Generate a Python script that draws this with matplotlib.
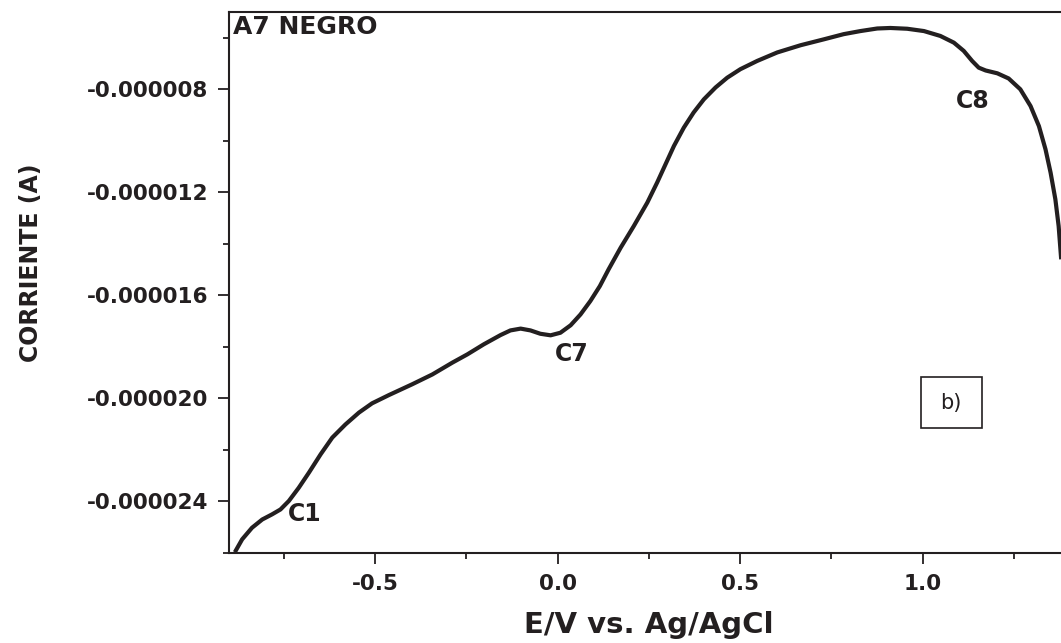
import numpy as np
import matplotlib
matplotlib.use("Agg")
import matplotlib.pyplot as plt
from matplotlib.patches import Rectangle
from matplotlib.ticker import FixedLocator, FuncFormatter

# Linear sweep voltammogram, sample A7 negro
potential = [
    -0.884, -0.864, -0.837, -0.809, -0.782, -0.759, -0.736, -0.709, -0.681,
    -0.649, -0.617, -0.581, -0.544, -0.508, -0.462, -0.398, -0.343, -0.288,
    -0.247, -0.202, -0.156, -0.129, -0.101, -0.074, -0.047, -0.019, 0.008,
    0.036, 0.063, 0.090, 0.116, 0.140, 0.173, 0.209, 0.246, 0.273, 0.296,
    0.319, 0.346, 0.373, 0.401, 0.433, 0.465, 0.501, 0.547, 0.602, 0.666,
    0.730, 0.784, 0.830, 0.876, 0.912, 0.958, 1.004, 1.049, 1.086, 1.113,
    1.136, 1.154, 1.173, 1.205, 1.236, 1.268, 1.296, 1.319, 1.337, 1.351,
    1.364, 1.373, 1.380,
]
current_uA = [
    -25.97, -25.47, -25.02, -24.70, -24.50, -24.31, -23.98, -23.47, -22.88,
    -22.17, -21.52, -21.01, -20.55, -20.19, -19.87, -19.45, -19.07, -18.61,
    -18.29, -17.90, -17.54, -17.36, -17.29, -17.36, -17.49, -17.55, -17.45,
    -17.16, -16.74, -16.22, -15.64, -14.99, -14.15, -13.31, -12.40, -11.62, -10.91,
    -10.20, -9.49, -8.90, -8.39, -7.93, -7.55, -7.22, -6.90, -6.57, -6.29,
    -6.06, -5.86, -5.74, -5.64, -5.62, -5.65, -5.74, -5.93, -6.19, -6.51,
    -6.90, -7.16, -7.27, -7.38, -7.58, -8.00, -8.65, -9.43, -10.33, -11.24,
    -12.27, -13.31, -14.60,
]

peak_names = ["C1", "C7", "C8"]
peak_x = [-0.693, 0.038, 1.137]
peak_y = [-24.50, -18.29, -8.47]

yticks = [-24e-6, -20e-6, -16e-6, -12e-6, -8e-6]
xticks = [-0.5, 0.0, 0.5, 1.0]

ink = "#231f20"
plt.rcParams["font.family"] = ["DejaVu Sans"]
plt.rcParams["axes.unicode_minus"] = False

fig = plt.figure(figsize=(10.61, 6.43), dpi=100)
ax = fig.add_axes([229 / 1061, 90 / 643, 839.5 / 1061, 541 / 643])

ax.plot(potential, np.array(current_uA) * 1e-6, color=ink, lw=3,
        solid_capstyle="butt", solid_joinstyle="round")

ax.set_xlim(-0.9, 1.4)
ax.set_ylim(-26e-6, -5e-6)

ax.xaxis.set_major_locator(FixedLocator(xticks))
ax.xaxis.set_minor_locator(FixedLocator([-0.75, -0.25, 0.25, 0.75, 1.25]))
ax.yaxis.set_major_locator(FixedLocator(yticks))
ax.yaxis.set_minor_locator(FixedLocator([-26e-6, -22e-6, -18e-6, -14e-6,
                                         -10e-6, -6e-6]))
ax.xaxis.set_major_formatter(FuncFormatter(lambda v, p: f"{v:.1f}"))
ax.yaxis.set_major_formatter(FuncFormatter(lambda v, p: f"{v:.6f}"))

ax.tick_params(which="major", direction="out", length=8, width=1.3,
               color=ink, labelcolor=ink, labelsize=15.5, pad=7)
ax.tick_params(which="minor", direction="out", length=4.5, width=1.3,
               color=ink)
for lab in ax.get_xticklabels() + ax.get_yticklabels():
    lab.set_fontweight("bold")

for s in ax.spines.values():
    s.set_linewidth(1.5)
    s.set_color(ink)

ax.set_xlabel("E/V vs. Ag/AgCl", fontsize=21, fontweight="bold", color=ink)
ax.xaxis.set_label_coords(0.5, -0.108)
ax.set_ylabel("CORRIENTE (A)", fontsize=17, fontweight="bold", color=ink)
ax.yaxis.set_label_coords(-0.222, 0.536)

ax.text(0.005, 0.972, "A7 NEGRO", transform=ax.transAxes, ha="left",
        va="center", fontsize=18, fontweight="bold", color=ink)

for name, px, py in zip(peak_names, peak_x, peak_y):
    ax.text(px, py * 1e-6, name, ha="center", va="center", fontsize=17,
            fontweight="bold", color=ink)

# panel tag in a framed box
ax.add_patch(Rectangle((0.995, -21.16e-6), 0.167, 1.98e-6, fill=False,
                       ec=ink, lw=1.2))
ax.text(1.078, -20.17e-6, "b)", ha="center", va="center", fontsize=15,
        color=ink)

fig.savefig("out.png", dpi=100)
